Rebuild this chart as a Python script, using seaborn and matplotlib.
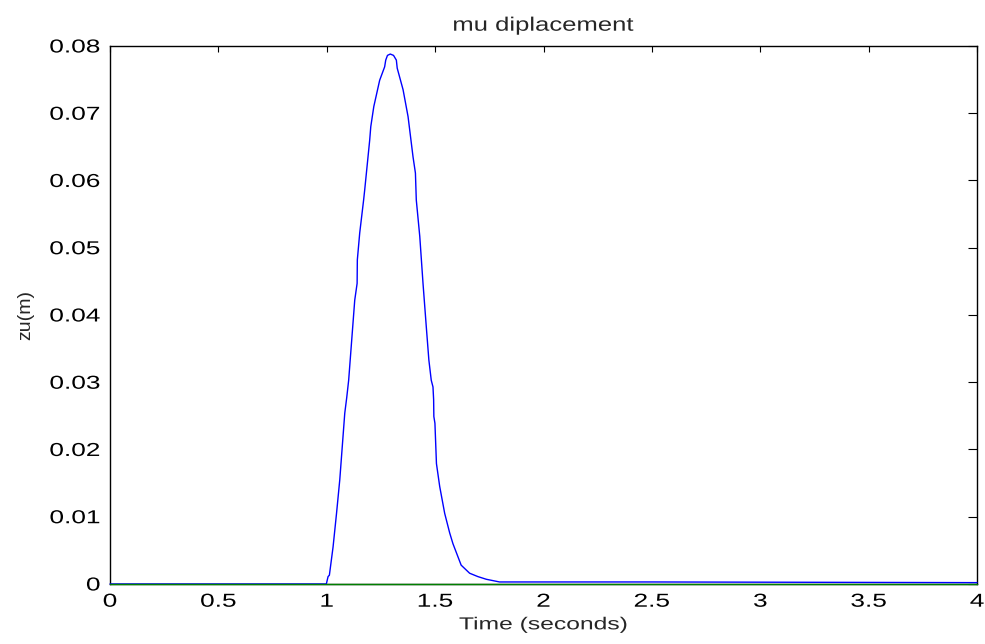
import matplotlib
matplotlib.use("Agg")
import matplotlib.pyplot as plt
import seaborn as sns
import numpy as np
import pandas as pd
from matplotlib.patheffects import AbstractPathEffect
from matplotlib.transforms import Affine2D

time_s = [0.0, 0.998, 1.006, 1.012, 1.029, 1.045, 1.060, 1.083, 1.092, 1.101, 1.129,
          1.140, 1.141, 1.152, 1.170, 1.175, 1.198, 1.203, 1.217, 1.244, 1.267,
          1.272, 1.280, 1.293, 1.308, 1.321, 1.325, 1.352, 1.375, 1.398, 1.409,
          1.413, 1.429, 1.444, 1.459, 1.471, 1.482, 1.490, 1.493, 1.494, 1.499,
          1.506, 1.521, 1.544, 1.567, 1.582, 1.620, 1.659, 1.697, 1.736, 1.797,
          2.500, 4.000]
zu_m = [0.0, 0.0, 0.0011, 0.0013, 0.0055, 0.0105, 0.0155, 0.0254, 0.0277, 0.0303, 0.0422,
        0.0447, 0.0482, 0.0522, 0.0571, 0.0586, 0.0660, 0.0680, 0.0710, 0.0749, 0.0769,
        0.0779, 0.0786, 0.0788, 0.0786, 0.0779, 0.0767, 0.0735, 0.0695, 0.0635, 0.0611,
        0.0571, 0.0517, 0.0447, 0.0383, 0.0333, 0.0303, 0.0293, 0.0274, 0.0249, 0.0239,
        0.0179, 0.0145, 0.0105, 0.0076, 0.0060, 0.0028, 0.0016, 0.0011, 0.0007, 0.0003,
        0.0003, 0.0002]
ref_time = [0.0, 4.0]
ref_zero = [0.0, 0.0]

x_ticks = [0, 0.5, 1, 1.5, 2, 2.5, 3, 3.5, 4]
x_labels = ["0", "0.5", "1", "1.5", "2", "2.5", "3", "3.5", "4"]
y_ticks = [0, 0.01, 0.02, 0.03, 0.04, 0.05, 0.06, 0.07, 0.08]
y_labels = ["0", "0.01", "0.02", "0.03", "0.04", "0.05", "0.06", "0.07", "0.08"]


class HStretch(AbstractPathEffect):
    """Widen text horizontally (the reference text is wide)."""
    def __init__(self, sx, anchor="center"):
        super().__init__()
        self.sx = sx
        self.anchor = anchor

    def draw_path(self, renderer, gc, tpath, affine, rgbFace=None):
        ext = tpath.get_extents(affine)
        if self.anchor == "center":
            a = 0.5 * (ext.x0 + ext.x1)
        elif self.anchor == "right":
            a = ext.x1
        else:
            a = ext.x0
        new = affine + Affine2D().translate(-a, 0).scale(self.sx, 1).translate(a, 0)
        renderer.draw_path(gc, tpath, new, rgbFace)


sns.set_style("white")
plt.rcParams['font.family'] = ['Liberation Sans', 'DejaVu Sans']

fig = plt.figure(figsize=(9.85, 6.44), dpi=100)
ax = fig.add_axes([0.1117, 0.0932, 0.9919 - 0.1117, 0.9286 - 0.0932])

df = pd.DataFrame({"t": time_s, "zu": zu_m})
dref = pd.DataFrame({"t": ref_time, "zu": ref_zero})
sns.lineplot(data=df, x="t", y="zu", ax=ax, color="#0000ff", linewidth=1.0,
             sort=False, estimator=None, zorder=3, clip_on=False)
sns.lineplot(data=dref, x="t", y="zu", ax=ax, color="#007f00", linewidth=1.0,
             sort=False, estimator=None, zorder=3.5, clip_on=False)

ax.set_xlim(0, 4)
ax.set_ylim(0, 0.08)
ax.set_xticks(x_ticks)
ax.set_xticklabels(x_labels)
ax.set_yticks(y_ticks)
ax.set_yticklabels(y_labels)
ax.tick_params(direction="in", width=0.8, top=True, right=True,
               labelsize=13.5, colors="black")
ax.tick_params(axis="x", length=4.3, pad=7)
ax.tick_params(axis="y", length=6.5, pad=7)
for s in ax.spines.values():
    s.set_visible(True)
    s.set_color("black")
    s.set_linewidth(1.0)

t = ax.set_title("mu diplacement", fontsize=14, pad=11)
t.set_path_effects([HStretch(1.32, "center")])
xl = ax.set_xlabel("Time (seconds)", fontsize=12.5)
xl.set_path_effects([HStretch(1.42, "center")])
ax.xaxis.set_label_coords(0.5, -0.062)
ax.set_ylabel("zu(m)", fontsize=14)
ax.yaxis.set_label_coords(-0.0877, 0.5)

for lbl in ax.get_xticklabels():
    lbl.set_path_effects([HStretch(1.4, "center")])
for lbl in ax.get_yticklabels():
    lbl.set_path_effects([HStretch(1.4, "right")])

fig.savefig("out.png", dpi=100)
